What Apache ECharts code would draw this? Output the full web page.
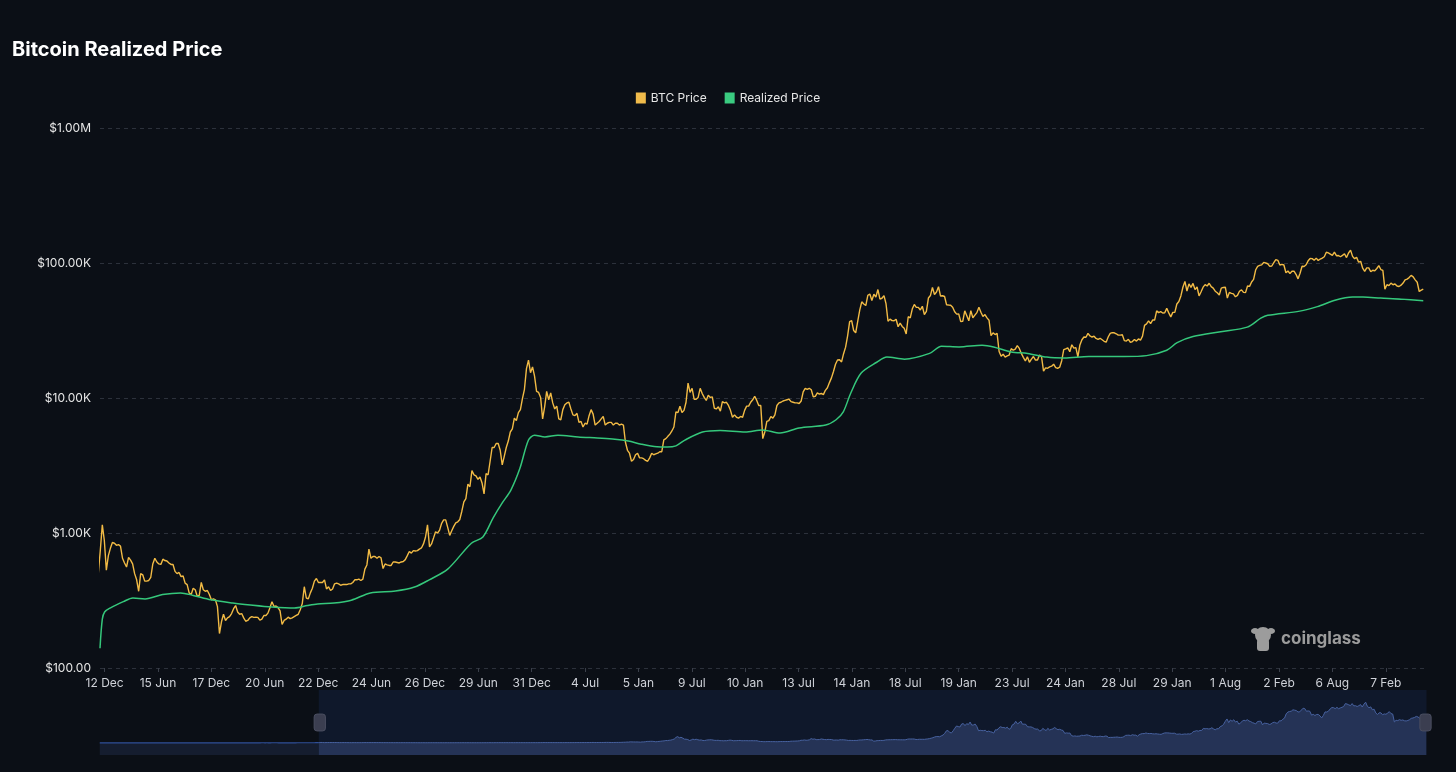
<!DOCTYPE html>
<html>
<head>
<meta charset="utf-8" />
<title>Bitcoin Realized Price</title>
<style>
  html, body { margin: 0; padding: 0; width: 100%; height: 100%; background: #0b0f16; }
  #chart { width: 1456px; height: 772px; }
</style>
</head>
<body>
<div id="chart"></div>
<script src="https://cdn.jsdelivr.net/npm/echarts@6/dist/echarts.min.js"></script>
<script>
// weekly BTC closes (one value per Wednesday), each block starts on the given date
var btc2011 = [9, 28, 19, 17, 16, 15, 14, 14, 14, 10, 10, 11, 8, 8, 7.5, 5.5, 5.5, 5, 4.5, 4, 3.5, 3.3, 3.2, 2.8, 2.3, 2.5, 3, 3.1, 3.2, 3.9, 4.2];
var btc2012 = [5.5, 6.8, 6.3, 5.8, 5.8, 5.6, 4.4, 4.8, 4.9, 4.9, 5.3, 5.0, 4.8, 4.9, 4.9, 5.1, 5.1, 5.0, 5.0, 5.1, 5.1, 5.2, 5.3, 5.6, 6.4, 6.7, 6.7, 7.3, 8.6, 8.8, 9.1, 11.0, 11.8, 10.0, 10.6, 10.8, 11.2, 12.2, 12.3, 12.5, 12.0, 11.8, 10.9, 11.2, 11.0, 11.2, 11.7, 12.4, 12.6, 13.4, 13.3, 13.4];
var btc2013 = [13.5, 14, 15, 17, 19, 21, 25, 29, 31, 40, 47, 60, 89, 130, 200, 80, 120, 115, 115, 122, 128, 129, 120, 105, 100, 103, 80, 95, 90, 95, 98, 105, 107, 112, 120, 130, 127, 130, 126, 125, 125, 140, 190, 200, 230, 350, 500, 740, 1150, 880, 530, 680];
var btc2014 = [770, 850, 840, 810, 820, 800, 650, 600, 560, 660, 630, 590, 500, 450, 370, 500, 490, 440, 440, 445, 470, 590, 650, 610, 590, 585, 640, 625, 620, 600, 585, 585, 520, 500, 510, 475, 480, 425, 415, 360, 350, 390, 380, 340, 345, 430, 380, 370, 375, 350, 320, 325, 320];
var btc2015 = [285, 180, 220, 250, 225, 235, 240, 253, 275, 290, 260, 250, 253, 235, 222, 225, 235, 240, 237, 238, 237, 226, 230, 245, 245, 255, 280, 310, 285, 288, 280, 265, 210, 225, 230, 238, 232, 235, 240, 245, 250, 270, 300, 400, 330, 325, 360, 390, 440, 460, 430, 430];
var btc2016 = [430, 450, 385, 400, 375, 385, 420, 425, 420, 410, 415, 415, 415, 420, 420, 430, 450, 450, 455, 445, 455, 540, 580, 760, 650, 670, 670, 650, 670, 655, 545, 590, 580, 575, 575, 610, 610, 605, 600, 610, 615, 635, 680, 730, 710, 740, 735, 740, 760, 775, 830, 930];
var btc2017 = [1150, 790, 830, 920, 1020, 1000, 1050, 1180, 1250, 1250, 1100, 960, 1040, 1120, 1190, 1210, 1260, 1450, 1700, 1800, 2300, 2200, 2900, 2700, 2650, 2500, 2600, 2350, 1950, 2750, 2700, 3400, 4300, 4300, 4600, 4600, 4100, 3200, 3700, 4300, 4800, 5600, 5900, 7100, 6800, 7800, 8200, 9900, 11600, 16500, 19100, 15400];
var btc2018 = [17000, 14500, 11200, 11000, 10100, 7000, 8600, 11200, 9700, 10900, 9200, 8300, 8700, 7000, 6900, 8200, 8900, 9200, 9300, 8300, 7500, 7400, 7700, 6600, 6700, 6100, 6500, 6400, 7400, 8200, 7600, 6300, 6500, 6700, 7000, 7300, 6300, 6500, 6600, 6600, 6300, 6500, 6500, 6300, 6400, 6300, 4700, 4100, 3900, 3400, 3500, 3800];
var btc2019 = [3900, 3600, 3600, 3550, 3450, 3400, 3600, 3900, 3800, 3850, 3900, 4000, 4000, 4900, 5000, 5200, 5400, 5700, 6100, 7900, 7800, 8700, 7800, 8100, 9300, 12900, 11000, 11800, 9800, 9800, 10100, 11800, 10800, 10100, 9600, 10500, 10100, 10200, 8400, 8300, 8600, 8000, 9400, 9200, 9300, 8800, 8100, 7200, 7500, 7200, 7100, 7300];
var btc2020 = [7200, 8100, 8700, 8700, 9300, 9700, 10300, 9600, 8800, 8800, 5000, 5600, 6700, 6800, 7300, 7100, 7500, 8800, 9200, 9300, 9500, 9600, 9700, 9800, 9400, 9300, 9200, 9200, 9100, 9500, 11100, 11800, 11600, 11800, 11500, 10200, 10300, 10900, 10700, 10800, 10600, 11400, 11900, 13000, 14100, 15700, 17800, 19100, 19200, 18500, 21300, 23800, 28900];
var btc2021 = [36800, 37400, 31600, 30400, 37000, 44800, 51600, 49700, 48400, 57600, 58900, 52700, 58700, 56000, 63600, 54000, 54800, 57400, 50000, 37000, 38400, 37400, 37300, 38300, 33700, 35900, 33900, 32800, 29800, 40000, 39200, 45600, 49300, 46900, 46900, 44900, 47800, 41500, 43800, 55000, 57400, 65900, 58500, 61000, 66700, 56900, 57200, 56500, 49000, 48800, 48700, 47000];
var btc2022 = [43500, 41800, 42000, 36900, 37000, 44200, 40600, 37300, 44400, 39300, 41100, 42900, 47100, 43200, 40100, 41500, 39200, 37700, 29000, 30400, 29500, 30100, 22100, 20400, 21100, 20100, 20500, 20800, 23200, 22600, 23000, 24400, 23300, 21400, 20000, 18800, 20200, 18400, 19400, 20300, 19100, 19100, 20800, 20200, 15800, 16700, 16600, 17000, 17200, 17800, 16800, 16600];
var btc2023 = [16900, 18900, 22800, 23100, 23500, 22000, 24800, 23400, 23600, 20200, 24700, 27000, 28300, 28200, 30100, 28800, 28300, 28700, 27600, 27200, 27700, 27000, 26300, 25900, 28300, 30100, 30500, 30400, 29900, 29200, 29200, 29400, 26600, 26400, 27200, 25800, 26200, 27100, 26400, 27400, 26800, 28700, 34500, 35400, 37300, 35600, 37800, 37800, 44200, 42900, 43600, 42600];
var btc2024 = [42800, 46100, 42700, 39900, 43100, 43100, 49700, 51800, 57000, 66100, 73100, 62000, 70000, 66000, 70600, 63500, 66400, 57000, 61200, 66200, 69200, 67600, 70800, 66800, 65100, 61800, 60200, 57900, 65100, 65900, 66200, 55000, 60600, 59500, 59000, 56200, 57600, 61800, 63200, 60600, 60300, 67600, 67100, 72300, 75600, 88700, 94300, 95900, 96900, 101100, 100000, 98700];
var btc2025 = [94400, 95000, 100500, 106000, 104700, 96600, 97800, 96600, 84700, 87300, 83700, 86900, 86900, 82500, 76300, 84000, 94700, 94300, 97000, 103800, 108000, 107800, 104700, 108700, 104500, 107000, 108800, 111200, 120100, 118800, 116400, 114000, 120200, 113300, 113700, 111200, 113900, 117100, 109700, 118600, 124500, 112000, 107600, 110100, 101300, 103000, 91500, 86800, 92100, 92000, 86100, 88400, 87500];
var btc2026 = [91000, 95500, 89500, 88000, 64000, 69000, 68000, 71000, 69000, 70000, 67500, 67000, 68500, 71000, 75000, 76000, 78000, 81000, 79000, 75000, 72000, 61500, 63000, 64000];

var btcBlocks = [
  ['2011-06-01', btc2011], ['2012-01-04', btc2012], ['2013-01-02', btc2013],
  ['2014-01-01', btc2014], ['2015-01-07', btc2015], ['2016-01-06', btc2016],
  ['2017-01-04', btc2017], ['2018-01-03', btc2018], ['2019-01-02', btc2019],
  ['2020-01-01', btc2020], ['2021-01-06', btc2021], ['2022-01-05', btc2022],
  ['2023-01-04', btc2023], ['2024-01-03', btc2024], ['2025-01-01', btc2025],
  ['2026-01-07', btc2026]
];

var realizedDates = ['2013-11-26', '2013-12-04', '2013-12-12', '2013-12-31', '2014-02-15', '2014-03-20', '2014-05-01', '2014-07-01', '2014-09-01', '2014-10-15', '2014-12-15', '2015-03-01', '2015-05-01', '2015-07-15', '2015-10-01', '2015-11-15', '2015-12-20', '2016-02-15', '2016-04-15', '2016-06-20', '2016-09-15', '2016-11-20', '2017-01-10', '2017-03-15', '2017-06-05', '2017-07-15', '2017-08-20', '2017-09-20', '2017-10-20', '2017-11-20', '2017-12-20', '2018-01-10', '2018-02-15', '2018-04-01', '2018-06-10', '2018-08-15', '2018-10-15', '2018-12-01', '2019-01-15', '2019-03-10', '2019-04-15', '2019-05-15', '2019-06-15', '2019-08-15', '2019-10-15', '2020-01-10', '2020-03-10', '2020-05-10', '2020-07-15', '2020-10-15', '2020-11-20', '2020-12-15', '2021-01-10', '2021-02-15', '2021-04-10', '2021-05-15', '2021-07-15', '2021-10-10', '2021-11-20', '2022-01-20', '2022-04-10', '2022-05-20', '2022-07-20', '2022-09-15', '2022-11-20', '2023-01-20', '2023-04-15', '2023-08-15', '2023-11-01', '2024-01-10', '2024-02-15', '2024-04-10', '2024-07-15', '2024-10-15', '2024-12-01', '2024-12-25', '2025-04-15', '2025-06-15', '2025-08-15', '2025-10-15', '2025-11-20', '2026-01-20', '2026-04-01', '2026-06-17'];
var realizedValues = [140, 230, 260, 278, 310, 330, 325, 350, 360, 345, 320, 303, 293, 283, 278, 290, 298, 303, 318, 360, 372, 398, 450, 540, 840, 935, 1300, 1670, 2080, 3000, 4880, 5300, 5150, 5300, 5150, 5050, 4950, 4800, 4550, 4350, 4330, 4420, 4880, 5600, 5750, 5600, 5800, 5500, 6000, 6300, 6900, 7900, 10900, 15300, 18400, 20100, 19400, 21400, 24200, 23900, 24600, 23900, 21900, 21400, 20100, 19800, 20300, 20300, 20600, 22600, 25700, 28500, 31000, 33500, 39000, 41000, 44000, 47500, 53000, 56000, 56000, 55000, 54000, 52500];

var tickDates = ['2013-12-12', '2014-06-15', '2014-12-17', '2015-06-20', '2015-12-22', '2016-06-24', '2016-12-26', '2017-06-29', '2017-12-31', '2018-07-04', '2019-01-05', '2019-07-09', '2020-01-10', '2020-07-13', '2021-01-14', '2021-07-18', '2022-01-19', '2022-07-23', '2023-01-24', '2023-07-28', '2024-01-29', '2024-08-01', '2025-02-02', '2025-08-06', '2026-02-07'];

var firstDay = '2011-06-01';
var lastDay = '2026-06-23';
var viewStart = '2013-11-26';

var DAY = 86400000;
var t0 = Date.parse(firstDay + 'T00:00:00Z');
function dayIndex(s) { return Math.round((Date.parse(s + 'T00:00:00Z') - t0) / DAY); }

// daily categories
var days = [];
for (var i = 0; i <= dayIndex(lastDay); i++) {
  days.push(new Date(t0 + i * DAY).toISOString().slice(0, 10));
}

var btcData = [];
btcBlocks.forEach(function (b) {
  var start = dayIndex(b[0]);
  b[1].forEach(function (v, j) { btcData.push([start + j * 7, v]); });
});
var realizedData = realizedDates.map(function (d, k) { return [dayIndex(d), realizedValues[k]]; });

var tickSet = {};
tickDates.forEach(function (d) { tickSet[d] = true; });
var months = ['Jan', 'Feb', 'Mar', 'Apr', 'May', 'Jun', 'Jul', 'Aug', 'Sep', 'Oct', 'Nov', 'Dec'];
function showTick(idx, val) { return !!tickSet[val]; }

function fmtY(v) {
  if (v >= 1e6) return '$' + (v / 1e6).toFixed(2) + 'M';
  if (v >= 1e3) return '$' + (v / 1e3).toFixed(2) + 'K';
  return '$' + v.toFixed(2);
}

var font = 'Inter, "Noto Sans", sans-serif';
var myChart = echarts.init(document.getElementById('chart'));
var option = {
  backgroundColor: '#0b0f16',
  animation: false,
  textStyle: { fontFamily: font },
  title: {
    text: 'Bitcoin Realized Price',
    left: 7,
    top: 35,
    textStyle: { color: '#ffffff', fontSize: 20, fontWeight: 'bold', fontFamily: font }
  },
  legend: {
    top: 87,
    left: 'center',
    icon: 'rect',
    itemWidth: 10,
    itemHeight: 11,
    itemGap: 18,
    textStyle: { color: '#e6e6e6', fontSize: 12, fontFamily: font },
    data: ['BTC Price', 'Realized Price']
  },
  grid: { left: 100, right: 31, top: 128, bottom: 104 },
  xAxis: {
    type: 'category',
    data: days,
    boundaryGap: false,
    axisLine: { show: false },
    axisTick: { show: true, interval: showTick, length: 4, lineStyle: { color: '#3a3f4a' } },
    axisLabel: {
      interval: showTick,
      color: '#cfd2d8',
      fontSize: 12,
      margin: 9,
      formatter: function (v) {
        var p = v.split('-');
        return parseInt(p[2], 10) + ' ' + months[parseInt(p[1], 10) - 1];
      }
    },
    splitLine: { show: false }
  },
  yAxis: {
    type: 'log',
    logBase: 10,
    min: 100,
    max: 1000000,
    axisLine: { show: false },
    axisTick: { show: false },
    axisLabel: { color: '#e6e6e6', fontSize: 12, margin: 9, formatter: fmtY },
    splitLine: { lineStyle: { color: '#2c313b', type: [4, 4] } }
  },
  dataZoom: [{
    type: 'slider',
    xAxisIndex: 0,
    filterMode: 'none',
    startValue: dayIndex(viewStart),
    endValue: days.length - 1,
    left: 97,
    right: 32,
    top: 690,
    height: 65,
    showDetail: false,
    brushSelect: false,
    moveHandleSize: 0,
    borderColor: 'transparent',
    backgroundColor: 'transparent',
    fillerColor: 'rgba(28,48,92,0.30)',
    handleIcon: 'path://M-3,-9h6a3,3,0,0,1,3,3v12a3,3,0,0,1,-3,3h-6a3,3,0,0,1,-3,-3v-12a3,3,0,0,1,3,-3z',
    handleSize: '26%',
    handleStyle: { color: '#3b3e50', borderColor: '#4a4e60', borderWidth: 1 },
    dataBackground: {
      lineStyle: { color: '#2f4f98', width: 1.2, opacity: 1 },
      areaStyle: { color: '#151d2f', opacity: 1 }
    },
    selectedDataBackground: {
      lineStyle: { color: '#5b78bd', width: 1, opacity: 1 },
      areaStyle: { color: '#2a3653', opacity: 1 }
    }
  }],
  series: [{
    name: 'BTC Price',
    type: 'line',
    data: btcData,
    showSymbol: false,
    symbol: 'none',
    lineStyle: { color: '#f2bb45', width: 1.4 },
    itemStyle: { color: '#f0bb4b' }
  }, {
    name: 'Realized Price',
    type: 'line',
    data: realizedData,
    showSymbol: false,
    symbol: 'none',
    smooth: 0.3,
    lineStyle: { color: '#35c77b', width: 1.5 },
    itemStyle: { color: '#3acb80' }
  }],
  graphic: [{
    type: 'group',
    left: 1251,
    top: 627,
    children: [
      { type: 'circle', shape: { cx: 12, cy: 10, r: 8 }, style: { fill: '#9c9c9c' } },
      { type: 'ellipse', shape: { cx: 4, cy: 6, rx: 4, ry: 3 }, style: { fill: '#9c9c9c' } },
      { type: 'ellipse', shape: { cx: 20, cy: 6, rx: 4, ry: 3 }, style: { fill: '#9c9c9c' } },
      { type: 'rect', shape: { x: 6, y: 14, width: 12, height: 12, r: 3 }, style: { fill: '#9c9c9c' } }
    ]
  }, {
    type: 'text',
    left: 1281,
    top: 630,
    style: { text: 'coinglass', fill: '#9c9c9c', fontSize: 17, fontWeight: 'bold', fontFamily: font }
  }]
};
myChart.setOption(option);
</script>
</body>
</html>
